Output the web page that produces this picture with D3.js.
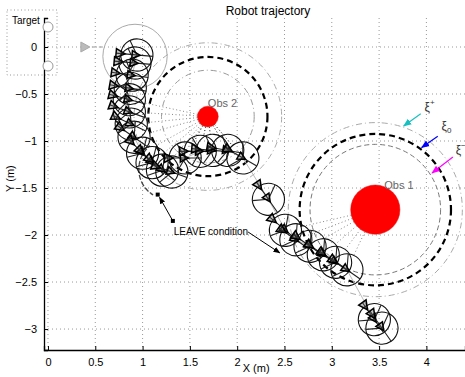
<!DOCTYPE html>
<html>
<head>
<meta charset="utf-8">
<script src="https://cdn.jsdelivr.net/npm/d3@7"></script>
<style>
  body { margin: 0; background: #fff; }
  svg { font-family: "Liberation Sans", Arial, sans-serif; }
</style>
</head>
<body>
<svg id="chart" width="465" height="377"></svg>
<script>
// axis ticks
const xTicks = [0, 0.5, 1, 1.5, 2, 2.5, 3, 3.5, 4];
const yTicks = [0, -0.5, -1, -1.5, -2, -2.5, -3];

// obstacles
const obsNames = ['Obs 1', 'Obs 2'];
const obsX = [3.46, 1.69];
const obsY = [-1.73, -0.74];
const obsR = [0.26, 0.11];
// rings: xi-, xi0, xi+
const ringsObs1 = [0.69, 0.80, 0.92];
const ringsObs2 = [0.49, 0.63, 0.78];

// robot poses along the trajectory
const robotX = [0.94, 0.92, 0.89, 0.87, 0.86, 0.86, 0.88, 0.91, 1.00, 1.10, 1.21, 1.31, 1.45,
                1.61, 1.74, 1.90, 2.06, 2.33, 2.51, 2.62, 2.77, 2.91, 3.04, 3.16, 3.45, 3.53];
const robotY = [-0.085, -0.17, -0.30, -0.44, -0.56, -0.69, -0.82, -0.96, -1.13, -1.23, -1.31, -1.33, -1.18,
                -1.11, -1.10, -1.10, -1.18, -1.62, -1.95, -2.05, -2.12, -2.21, -2.29, -2.37, -2.90, -2.99];
const robotHeading = [-5, -5, -8, -10, -15, -20, -25, -35, -45, -45, -40, -20, 0,
                      0, -5, -10, -30, -55, -40, -35, -35, -35, -35, -35, -55, -55];
const robotRadius = 0.17;

// start pose (grey)
const startX = 0.92, startY = -0.10, startR = 0.34;
const goalArrowX = [0.39, 0.58], goalArrowY = [0, 0];

// annotations
const leaveSquaresX = [1.32, 1.16], leaveSquaresY = [-1.85, -1.57];
const leaveText = {x: 1.33, y: -2.0, label: 'LEAVE condition'};
const xiLabels = ['ξ', 'ξ', 'ξ'];
const xiSup = ['+', '0', '−'];
const xiColors = ['#17c0c0', '#0000ff', '#ff00ff'];
const xiFromX = [3.94, 4.12, 4.28], xiFromY = [-0.71, -0.95, -1.17];
const xiToX = [3.76, 3.95, 4.06], xiToY = [-0.84, -1.07, -1.34];
const xiTextX = [3.98, 4.16, 4.31], xiTextY = [-0.68, -0.88, -1.14];

const svg = d3.select('#chart');
const margin = {left: 44, top: 18, right: 465, bottom: 350};

const x = d3.scaleLinear().domain([-0.042, 4.408]).range([margin.left, margin.right]);
const y = d3.scaleLinear().domain([0.3085, -3.223]).range([margin.top, margin.bottom]);
const k = x(1) - x(0);

const defs = svg.append('defs');
[['arrBlack', '#000'], ['arrC0', xiColors[0]], ['arrC1', xiColors[1]], ['arrC2', xiColors[2]]].forEach(([id, c]) => {
  defs.append('marker').attr('id', id).attr('viewBox', '0 0 10 10').attr('refX', 9).attr('refY', 5)
    .attr('markerWidth', 7).attr('markerHeight', 7).attr('orient', 'auto')
    .append('path').attr('d', 'M0,1 L10,5 L0,9 Z').attr('fill', c);
});

// grid
const grid = svg.append('g');
grid.selectAll('.gx').data(xTicks).enter().append('line')
  .attr('x1', d => x(d)).attr('x2', d => x(d)).attr('y1', margin.top).attr('y2', margin.bottom)
  .attr('stroke', '#999').attr('stroke-width', 1).attr('stroke-dasharray', '1,3');
grid.selectAll('.gy').data(yTicks).enter().append('line')
  .attr('x1', margin.left).attr('x2', margin.right).attr('y1', d => y(d)).attr('y2', d => y(d))
  .attr('stroke', '#999').attr('stroke-width', 1).attr('stroke-dasharray', '1,3');

// axes
const xAxis = d3.axisBottom(x).tickValues(xTicks).tickSize(-4).tickPadding(8).tickFormat(d3.format('~g'));
const yAxis = d3.axisLeft(y).tickValues(yTicks).tickSize(-4).tickPadding(7).tickFormat(d => d3.format('~g')(d).replace('-', '−'));
const gx = svg.append('g').attr('transform', `translate(0,${margin.bottom})`).call(xAxis);
const gy = svg.append('g').attr('transform', `translate(${margin.left},0)`).call(yAxis);
[gx, gy].forEach(g => {
  g.select('.domain').attr('stroke', '#000').attr('stroke-width', 1.3);
  g.selectAll('text').attr('font-size', 11).attr('fill', '#000').style('font-family', '"Liberation Sans", Arial, sans-serif');
});

// obstacle rings
const ringStyles = [
  {stroke: '#777', dash: '5,3', width: 1},
  {stroke: '#000', dash: '6,4', width: 2.2},
  {stroke: '#aaa', dash: '6,3,1,3', width: 1}
];
const rings = svg.append('g');
[ringsObs1, ringsObs2].forEach((rs, i) => {
  rs.forEach((r, j) => {
    const st = i === 1 && j === 0 ? {stroke: '#999', dash: '6,3,1,3', width: 1} : ringStyles[j];
    rings.append('circle').attr('cx', x(obsX[i])).attr('cy', y(obsY[i])).attr('r', r * k)
      .attr('fill', 'none').attr('stroke', st.stroke).attr('stroke-width', st.width)
      .attr('stroke-dasharray', st.dash);
  });
});

// dashed arc near LEAVE point
const arc = d3.arc().innerRadius(0.32 * k).outerRadius(0.32 * k).startAngle(3.7).endAngle(5.6);
svg.append('path').attr('d', arc()).attr('transform', `translate(${x(1.28)},${y(-1.30)})`)
  .attr('fill', 'none').attr('stroke', '#444').attr('stroke-width', 1.3).attr('stroke-dasharray', '4,3');

// rays obstacle -> robot
const rays = svg.append('g');
robotX.forEach((rx, i) => {
  [0, 1].forEach(o => {
    const dx = rx - obsX[o], dy = robotY[i] - obsY[o];
    const dist = Math.hypot(dx, dy);
    const lim = o === 0 ? 1.05 : 0.85;
    if (dist < lim) {
      const ux = dx / dist, uy = dy / dist;
      rays.append('line')
        .attr('x1', x(obsX[o] + ux * obsR[o])).attr('y1', y(obsY[o] + uy * obsR[o]))
        .attr('x2', x(rx - ux * robotRadius)).attr('y2', y(robotY[i] - uy * robotRadius))
        .attr('stroke', dist < 0.6 && o === 1 ? '#000' : '#888').attr('stroke-width', 1)
        .attr('stroke-dasharray', '1,2.5');
    }
  });
});

// obstacles
svg.selectAll('.obs').data(obsX).enter().append('circle')
  .attr('cx', d => x(d)).attr('cy', (d, i) => y(obsY[i])).attr('r', (d, i) => obsR[i] * k)
  .attr('fill', '#ff0000').attr('stroke', '#e00').attr('stroke-width', 0.5);
svg.selectAll('.obsl').data(obsNames).enter().append('text')
  .attr('x', (d, i) => x(obsX[i]) + (i === 0 ? 9 : 0)).attr('y', (d, i) => y(obsY[i] + obsR[i]) + (i === 0 ? 4 : 1))
  .attr('font-size', 11).attr('fill', '#666').text(d => d);

// start pose and goal direction
svg.append('circle').attr('cx', x(startX)).attr('cy', y(startY)).attr('r', startR * k)
  .attr('fill', 'none').attr('stroke', '#aaa').attr('stroke-width', 1);
svg.append('line').attr('x1', x(goalArrowX[0])).attr('y1', y(goalArrowY[0])).attr('x2', x(goalArrowX[1])).attr('y2', y(goalArrowY[1]))
  .attr('stroke', '#bbb').attr('stroke-width', 1.5).attr('stroke-dasharray', '4,3');
svg.append('path').attr('d', 'M-4,-5 L5,0 L-4,5 Z').attr('transform', `translate(${x(goalArrowX[0])},${y(goalArrowY[0])})`)
  .attr('fill', '#bbb').attr('stroke', '#aaa');

// trajectory line
svg.append('path').datum(robotX.map((d, i) => [d, robotY[i]]))
  .attr('d', d3.line().x(d => x(d[0])).y(d => y(d[1])))
  .attr('fill', 'none').attr('stroke', '#bbb').attr('stroke-width', 1);

// robots
const robots = svg.selectAll('.robot').data(robotX).enter().append('g')
  .attr('transform', (d, i) => `translate(${x(d)},${y(robotY[i])}) rotate(${-robotHeading[i]})`);
const rp = robotRadius * k;
robots.append('circle').attr('r', rp).attr('fill', 'none').attr('stroke', '#111').attr('stroke-width', 1.1);
robots.append('path')
  .attr('d', `M${-rp * 1.3},0 L${rp},0 M0,0 L${rp * Math.cos(2.1)},${rp * Math.sin(2.1)} M0,0 L${rp * Math.cos(-2.1)},${rp * Math.sin(-2.1)}`)
  .attr('stroke', '#222').attr('stroke-width', 1.1).attr('fill', 'none');
robots.append('path')
  .attr('d', `M${-rp * 1.3},-4.5 L${-rp * 1.3 + 9},0 L${-rp * 1.3},4.5 Z M${-rp * 0.3},-4 L${-rp * 0.3 + 8},0 L${-rp * 0.3},4 Z`)
  .attr('fill', '#555').attr('fill-opacity', 0.35).attr('stroke', '#000').attr('stroke-width', 1.5);

// title & labels
svg.append('text').attr('x', 268).attr('y', 15).attr('text-anchor', 'middle').attr('font-size', 12).text('Robot trajectory');
svg.append('text').attr('x', x(2.2)).attr('y', 372).attr('text-anchor', 'middle').attr('font-size', 11).text('X (m)');
svg.append('text').attr('transform', `translate(14,${y(-1.4)}) rotate(-90)`).attr('text-anchor', 'middle').attr('font-size', 11).text('Y (m)');

// target inset
const inset = svg.append('g');
inset.append('rect').attr('x', 7).attr('y', 10).attr('width', 50).attr('height', 65)
  .attr('fill', 'none').attr('stroke', '#999').attr('stroke-dasharray', '1,2.5');
inset.append('text').attr('x', 12).attr('y', 24).attr('font-size', 10).text('Target');
[27, 66].forEach(cy => inset.append('circle').attr('cx', 48).attr('cy', cy).attr('r', 5)
  .attr('fill', '#fff').attr('stroke', '#999'));

// LEAVE annotation
svg.selectAll('.lsq').data(leaveSquaresX).enter().append('rect')
  .attr('x', d => x(d) - 2).attr('y', (d, i) => y(leaveSquaresY[i]) - 2).attr('width', 4).attr('height', 4).attr('fill', '#000');
svg.append('line').attr('x1', x(leaveSquaresX[0])).attr('y1', y(leaveSquaresY[0]))
  .attr('x2', x(1.18)).attr('y2', y(-1.60)).attr('stroke', '#000').attr('marker-end', 'url(#arrBlack)');
const lt = svg.append('text').attr('x', x(leaveText.x)).attr('y', y(leaveText.y)).attr('font-size', 10).text(leaveText.label);
svg.append('line').attr('x1', x(leaveText.x) + lt.node().getComputedTextLength()).attr('y1', y(leaveText.y) - 3)
  .attr('x2', x(2.45)).attr('y2', y(-2.19)).attr('stroke', '#000').attr('marker-end', 'url(#arrBlack)');

// xi arrows
xiLabels.forEach((s, i) => {
  svg.append('line').attr('x1', x(xiFromX[i])).attr('y1', y(xiFromY[i])).attr('x2', x(xiToX[i])).attr('y2', y(xiToY[i]))
    .attr('stroke', xiColors[i]).attr('stroke-width', 1.2).attr('marker-end', `url(#arrC${i})`);
  const t = svg.append('text').attr('x', x(xiTextX[i])).attr('y', y(xiTextY[i]))
    .attr('font-size', 12).attr('fill', '#333');
  t.append('tspan').text(s);
  t.append('tspan').attr('font-size', 8).attr('dy', i === 1 ? 3 : -6).text(xiSup[i]);
});
</script>
</body>
</html>
